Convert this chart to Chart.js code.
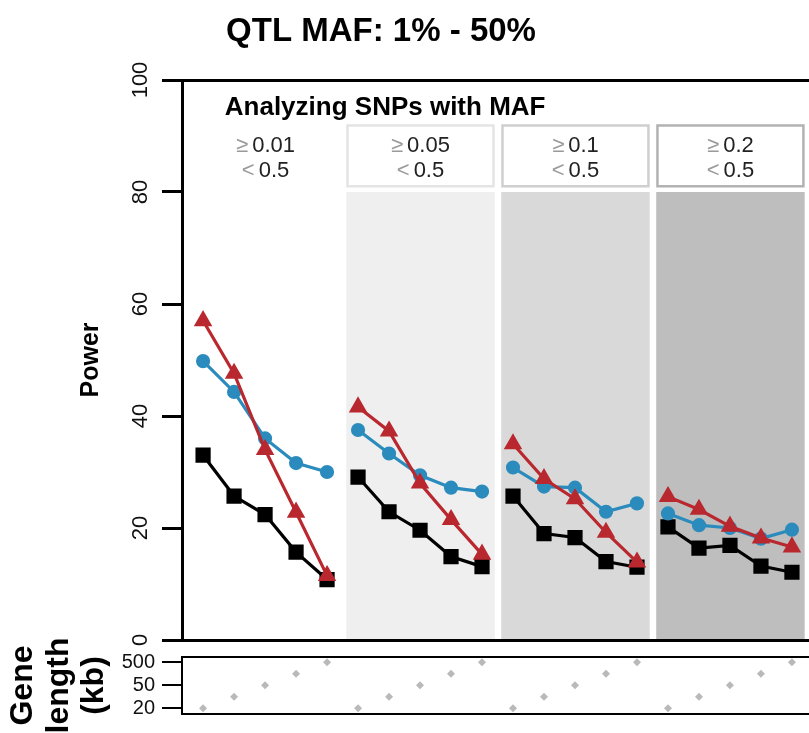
<!DOCTYPE html>
<html>
<head>
<meta charset="utf-8">
<title>QTL MAF: 1% - 50%</title>
<script src="https://cdn.jsdelivr.net/npm/chart.js@4.4.1/dist/chart.umd.min.js"></script>
<style>
    body { margin: 0; background: #fff; }
    #wrap { position: relative; width: 809px; height: 733px; overflow: hidden; }
    #wrap canvas { position: absolute; left: 0; top: 0; }
</style>
</head>
<body>
<div id="wrap">
    <canvas id="powerChart" width="809" height="733"></canvas>
    <canvas id="geneChart" width="809" height="733"></canvas>
</div>
<script>
const chartTitle = 'QTL MAF: 1% - 50%';
const panelHeading = 'Analyzing SNPs with MAF';
const panelMin = ['0.01', '0.05', '0.1', '0.2'];
const panelMax = ['0.5', '0.5', '0.5', '0.5'];
const powerTicks = [0, 20, 40, 60, 80, 100];

// power per panel, 5 gene lengths each
const redTriangle = [
    [57, 47.6, 34, 22.8, 11.5],
    [41.6, 37.3, 28, 21.5, 15.3],
    [35, 28.8, 25.2, 19.2, 13.9],
    [25.6, 23.3, 20.3, 18.2, 16.6],
];
const blueCircle = [
    [49.8, 44.3, 36, 31.6, 30],
    [37.5, 33.3, 29.4, 27.2, 26.5],
    [30.8, 27.4, 27.2, 22.9, 24.4],
    [22.6, 20.5, 20, 18.1, 19.7],
];
const blackSquare = [
    [33, 25.7, 22.4, 15.7, 10.8],
    [29.1, 22.9, 19.6, 14.9, 13.1],
    [25.7, 19, 18.3, 14, 13],
    [20.2, 16.4, 16.9, 13.2, 12.1],
];

const geneLengthTicks = ['20', '', '50', '', '500'];
const geneLevel = [0, 1, 2, 3, 4];

const panelFill = ['#ffffff', '#efefef', '#d9d9d9', '#bebebe'];
const panelEdge = ['#ffffff', '#e4e4e4', '#cfcfcf', '#b2b2b2'];
const FONT = '"Liberation Sans", Arial, Helvetica, sans-serif';
const PER_PANEL = 5;

function toPoints(series) {
    const pts = [];
    series.forEach((vals, p) => {
        vals.forEach((v, i) => pts.push({x: p * PER_PANEL + i, y: v}));
        if (p < series.length - 1) pts.push({x: p * PER_PANEL + 4.5, y: null});
    });
    return pts;
}

function genePoints() {
    const pts = [];
    for (let p = 0; p < panelMin.length; p++) {
        geneLevel.forEach((g, i) => pts.push({x: p * PER_PANEL + i, y: g}));
    }
    return pts;
}

const xScale = {
    type: 'linear',
    min: -0.68,
    max: 19.55,
    display: false,
};

function drawBound(ctx, sym, num, cx, cy) {
    ctx.font = '22px ' + FONT;
    const ws = ctx.measureText(sym).width;
    const wn = ctx.measureText(num).width;
    const gap = 4;
    let x0 = cx - (ws + gap + wn) / 2;
    ctx.textAlign = 'left';
    ctx.textBaseline = 'middle';
    ctx.fillStyle = '#9a9a9a';
    ctx.fillText(sym, x0, cy);
    ctx.fillStyle = '#222';
    ctx.fillText(num, x0 + ws + gap, cy);
}

const panelDecor = {
    id: 'panelDecor',
    beforeDatasetsDraw(chart) {
        const {ctx, scales: {x, y}} = chart;
        ctx.save();
        for (let p = 0; p < panelMin.length; p++) {
            const left = x.getPixelForValue(p * PER_PANEL - 0.38);
            const right = x.getPixelForValue(p * PER_PANEL + 4.41);
            const bgTop = y.getPixelForValue(80);
            ctx.fillStyle = panelFill[p];
            ctx.fillRect(left, bgTop, right - left, y.getPixelForValue(0) - bgTop);

            const top = y.getPixelForValue(92.1);
            const bottom = y.getPixelForValue(80.8);
            ctx.fillStyle = '#fff';
            ctx.fillRect(left, top, right - left, bottom - top);
            ctx.strokeStyle = panelEdge[p];
            ctx.lineWidth = 2.5;
            ctx.strokeRect(left + 1.25, top + 1.25, right - left - 2.5, bottom - top - 2.5);

            const cx = (left + right) / 2;
            drawBound(ctx, '≥', panelMin[p], cx, y.getPixelForValue(88.2));
            drawBound(ctx, '<', panelMax[p], cx, y.getPixelForValue(83.8));
        }
        ctx.restore();
    },
    afterDraw(chart) {
        const {ctx, chartArea, scales: {x, y}} = chart;
        ctx.save();
        ctx.strokeStyle = '#000';
        ctx.lineWidth = 3;
        [100, 0].forEach(v => {
            const py = Math.round(y.getPixelForValue(v)) + 0.5;
            ctx.beginPath();
            ctx.moveTo(chartArea.left - 20, py);
            ctx.lineTo(chart.width, py);
            ctx.stroke();
        });

        ctx.fillStyle = '#000';
        ctx.textBaseline = 'middle';
        ctx.textAlign = 'center';
        ctx.font = 'bold 33px ' + FONT;
        ctx.fillText(chartTitle, 381, 32);

        ctx.textAlign = 'left';
        ctx.font = 'bold 26px ' + FONT;
        ctx.fillText(panelHeading, x.getPixelForValue(0.7), y.getPixelForValue(95.1));
        ctx.restore();
    }
};

const geneFrame = {
    id: 'geneFrame',
    afterDraw(chart) {
        const {ctx, chartArea} = chart;
        ctx.save();
        ctx.strokeStyle = '#000';
        ctx.lineWidth = 2;
        [chartArea.top, chartArea.bottom].forEach(py => {
            ctx.beginPath();
            ctx.moveTo(chartArea.left, py);
            ctx.lineTo(chart.width, py);
            ctx.stroke();
        });
        ctx.restore();
    }
};

const powerChart = new Chart(document.getElementById('powerChart'), {
    type: 'line',
    data: {
        datasets: [
            {
                label: 'triangle',
                data: toPoints(redTriangle),
                borderColor: '#b8282e',
                backgroundColor: '#b8282e',
                pointStyle: 'triangle',
                pointRadius: 7.5,
                borderWidth: 3.2,
            },
            {
                label: 'circle',
                data: toPoints(blueCircle),
                borderColor: '#2b8bbd',
                backgroundColor: '#2b8bbd',
                pointStyle: 'circle',
                pointRadius: 5.5,
                borderWidth: 3.2,
            },
            {
                label: 'square',
                data: toPoints(blackSquare),
                borderColor: '#000',
                backgroundColor: '#000',
                pointStyle: 'rect',
                pointRadius: 8.5,
                borderWidth: 3.2,
            },
        ]
    },
    options: {
        responsive: false,
        animation: false,
        devicePixelRatio: 1,
        spanGaps: false,
        layout: { autoPadding: false, padding: { top: 80, bottom: 93, left: 0, right: 0 } },
        elements: { line: { tension: 0 }, point: { borderWidth: 0, hoverRadius: 7 } },
        plugins: { legend: { display: false }, tooltip: { enabled: false } },
        scales: {
            x: xScale,
            y: {
                min: 0,
                max: 100,
                afterBuildTicks: (scale) => { scale.ticks = powerTicks.map(v => ({value: v})); },
                afterFit: (scale) => { scale.width = 182; },
                border: { display: true, color: '#000', width: 3 },
                grid: { drawOnChartArea: false, drawTicks: true, tickLength: 20, color: '#000', lineWidth: 3 },
                ticks: {
                    minRotation: 90,
                    maxRotation: 90,
                    crossAlign: 'center',
                    padding: 3,
                    color: '#111',
                    font: { family: FONT, size: 22 },
                },
                title: {
                    display: true,
                    text: 'Power',
                    color: '#000',
                    font: { family: FONT, size: 25, weight: 'bold' },
                    padding: { top: 76, bottom: 0 },
                },
            }
        }
    },
    plugins: [panelDecor]
});

const geneChart = new Chart(document.getElementById('geneChart'), {
    type: 'scatter',
    data: {
        datasets: [{
            label: 'gene length',
            data: genePoints(),
            backgroundColor: '#b9b9b9',
            borderColor: '#b9b9b9',
            pointStyle: 'rectRot',
            pointRadius: 4,
            borderWidth: 0,
        }]
    },
    options: {
        responsive: false,
        animation: false,
        devicePixelRatio: 1,
        layout: { autoPadding: false, padding: { top: 657, bottom: 18, left: 0, right: 0 } },
        plugins: { legend: { display: false }, tooltip: { enabled: false } },
        scales: {
            x: xScale,
            y: {
                min: -0.5,
                max: 4.45,
                afterBuildTicks: (scale) => { scale.ticks = geneLevel.map(v => ({value: v})); },
                afterFit: (scale) => { scale.width = 182; },
                border: { display: true, color: '#000', width: 2 },
                grid: { drawOnChartArea: false, drawTicks: true, tickLength: 20, color: '#000', lineWidth: 2 },
                ticks: {
                    padding: 7,
                    color: '#111',
                    font: { family: FONT, size: 20 },
                    callback: (v) => geneLengthTicks[v] ?? '',
                },
                title: {
                    display: true,
                    text: ['Gene', 'length', '(kb)'],
                    color: '#000',
                    font: { family: FONT, size: 32, weight: 'bold', lineHeight: 1.1 },
                    padding: { top: 6, bottom: 0 },
                },
            }
        }
    },
    plugins: [geneFrame]
});
</script>
</body>
</html>
